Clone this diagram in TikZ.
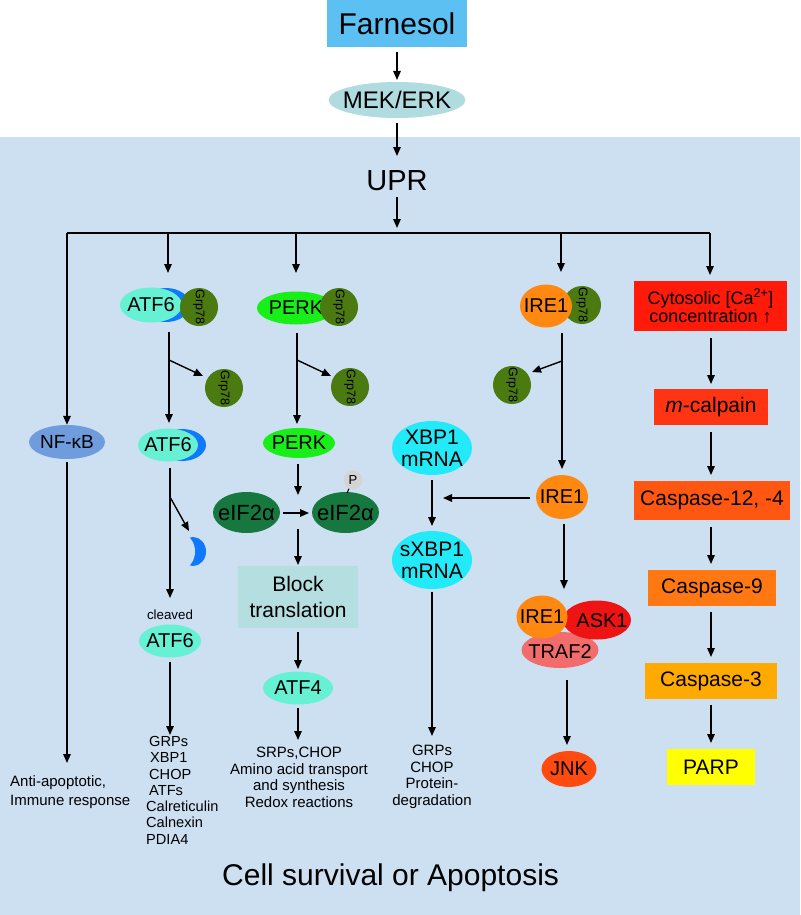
\documentclass[tikz,border=0pt]{standalone}
\usepackage{fontspec}
\setmainfont{Liberation Sans}
\usetikzlibrary{shapes.geometric,arrows.meta}
\definecolor{bgblue}{RGB}{204,224,242}
\definecolor{farn}{RGB}{92,192,242}
\definecolor{mek}{RGB}{176,220,224}
\definecolor{grp}{RGB}{74,122,16}
\definecolor{atfc}{RGB}{102,240,212}
\definecolor{cres}{RGB}{16,120,250}
\definecolor{perkc}{RGB}{24,238,24}
\definecolor{eifc}{RGB}{22,120,62}
\definecolor{pc}{RGB}{212,212,212}
\definecolor{blockc}{RGB}{180,222,224}
\definecolor{xbpc}{RGB}{34,234,248}
\definecolor{irec}{RGB}{255,136,17}
\definecolor{askc}{RGB}{238,20,20}
\definecolor{trafc}{RGB}{242,108,108}
\definecolor{jnkc}{RGB}{255,74,16}
\definecolor{nfkc}{RGB}{110,156,220}
\definecolor{cytoc}{RGB}{255,26,10}
\definecolor{calpc}{RGB}{255,52,18}
\definecolor{c12c}{RGB}{255,86,17}
\definecolor{c9c}{RGB}{255,120,18}
\definecolor{c3c}{RGB}{255,170,0}
\definecolor{parpc}{RGB}{255,255,0}
\begin{document}
\begin{tikzpicture}[x=1pt,y=-1pt,
  arr/.style={-{Triangle[length=9pt,width=7.5pt]}, line width=1.4pt},
  ln/.style={line width=1.4pt},
  ell/.style={ellipse, inner sep=0pt},
  boxn/.style={rectangle, inner sep=0pt},
  grpn/.style={circle, fill=grp, minimum size=38pt, inner sep=0pt, rotate=-90, font=\fontsize{12.5pt}{14pt}\selectfont},
  txt/.style={inner sep=0pt, align=center},
  f20/.style={font=\fontsize{20pt}{22pt}\selectfont},
  f21/.style={font=\fontsize{21pt}{23pt}\selectfont},
  f15/.style={font=\fontsize{15pt}{16.6pt}\selectfont}]
\useasboundingbox (0,0) rectangle (800,915);
\fill[white] (0,0) rectangle (800,137);
\fill[bgblue] (0,137) rectangle (800,915);

% top
\node[boxn, fill=farn, minimum width=140pt, minimum height=47pt, font=\fontsize{30pt}{32pt}\selectfont] (farnesol) at (397,23.5) {Farnesol};
\node[ell, fill=mek, minimum width=137pt, minimum height=36pt] (mek) at (397,100) {};
\node[txt, font=\fontsize{24pt}{26pt}\selectfont] (mekt) at (mek) {MEK/ERK};
\node[txt, font=\fontsize{29pt}{31pt}\selectfont] (upr) at (397,181) {UPR};
\draw[arr] (397,52) -- (397,80);
\draw[arr] (397,123) -- (397,156);
\draw[arr] (397,197) -- (397,228);
\coordinate (hl) at (67,233);
\coordinate (hr) at (710,233);
\draw[ln] (hl) -- (hr);

% NF-kB
\node[ell, fill=nfkc, minimum width=76pt, minimum height=34pt] (nfkb) at (67,442) {};
\node[txt, font=\fontsize{19pt}{21pt}\selectfont] (nfkbt) at (nfkb) {NF-κB};
\draw[arr] (hl) -- (nfkb.north);
\draw[arr] (nfkb.south) ++(0,3) -- (67,763);
\node[txt, anchor=west, align=left, font=\fontsize{15pt}{19pt}\selectfont] (antiapo) at (10,792) {Anti-apoptotic,\\Immune response};

% ATF6 column
\fill[cres] (166,305) ellipse [x radius=24pt, y radius=17pt];
\node[ell, fill=atfc, minimum width=62pt, minimum height=35pt] (atf6a) at (151,305) {};
\node[txt, f20] (atf6at) at (atf6a) {ATF6};
\node[grpn] (grp1) at (199,307) {Grp78};
\draw[arr] (168,233) -- (168,273);
\draw[arr] (169,332) -- (169,423);
\coordinate (b1) at (169,360);
\draw[arr] (b1) -- (203,376);
\node[grpn] (grp1r) at (224,388) {Grp78};

\fill[cres] (182,445) ellipse [x radius=24pt, y radius=16pt];
\node[ell, fill=atfc, minimum width=60pt, minimum height=33pt] (atf6b) at (168,445) {};
\node[txt, f20] (atf6bt) at (atf6b) {ATF6};
% free crescent
\fill[cres] (193,551.5) ellipse [x radius=13pt, y radius=14.5pt];
\fill[bgblue] (183,551.5) ellipse [x radius=12pt, y radius=16.5pt];
\coordinate (crescent) at (189,531);
\draw[arr] (170,468) -- (170,598);
\coordinate (b2) at (170,497);
\draw[arr] (b2) -- (crescent);
\node[txt, font=\fontsize{13.3pt}{15pt}\selectfont] (cleaved) at (170,615) {cleaved};
\node[ell, fill=atfc, minimum width=62pt, minimum height=33pt] (atf6c) at (170,641) {};
\node[txt, f20] (atf6ct) at (atf6c) {ATF6};
\draw[arr] (atf6c.south) ++(0,4) -- (170,735);
\node[txt, anchor=north west, align=left, font=\fontsize{14.6pt}{16.3pt}\selectfont] (atf6list) at (146,736) {\hspace*{3pt}GRPs\\\hspace*{4pt}XBP1\\\hspace*{3pt}CHOP\\\hspace*{3pt}ATFs\\Calreticulin\\Calnexin\\PDIA4};

% PERK column
\node[ell, fill=perkc, minimum width=78pt, minimum height=33pt] (perka) at (296,308) {};
\node[txt, f20] (perkat) at (perka) {PERK};
\node[grpn] (grp2) at (339,307) {Grp78};
\draw[arr] (296,233) -- (296,273);
\draw[arr] (297,333) -- (297,424);
\coordinate (b3) at (297,360);
\draw[arr] (b3) -- (331,376);
\node[grpn] (grp2r) at (350,387) {Grp78};
\node[ell, fill=perkc, minimum width=72pt, minimum height=30pt] (perkb) at (299,443) {};
\node[txt, f20] (perkbt) at (perkb) {PERK};
\draw[arr] (298,464) -- (298,495);
\node[ell, fill=eifc, minimum width=67pt, minimum height=41pt] (eif1) at (246.5,512.5) {};
\node[txt, font=\fontsize{22pt}{24pt}\selectfont] (eif1t) at (eif1) {eIF2α};
\node[ell, fill=eifc, minimum width=67pt, minimum height=41pt] (eif2) at (345.5,512.5) {};
\node[txt, font=\fontsize{22pt}{24pt}\selectfont] (eif2t) at (eif2) {eIF2α};
\node[circle, fill=pc, minimum size=19pt, inner sep=0pt, font=\fontsize{13pt}{14pt}\selectfont] (pnode) at (353,480) {P};
\draw[line width=1pt] (pnode.south) ++(-4,-1) -- (347,493);
\draw[arr] (283,513) -- (309,513);
\draw[arr] (298,529) -- (298,565);
\node[boxn, fill=blockc, minimum width=120pt, minimum height=62pt, align=center, font=\fontsize{21pt}{26pt}\selectfont] (block) at (298,597) {Block\\translation};
\draw[arr] (298,632) -- (298,669);
\node[ell, fill=atfc, minimum width=70pt, minimum height=33pt] (atf4) at (298,688) {};
\node[txt, f20] (atf4t) at (atf4) {ATF4};
\draw[arr] (298,708) -- (298,740);
\node[txt, f15, anchor=north] (perklist) at (299,747) {SRPs,CHOP\\Amino acid transport\\and synthesis\\Redox reactions};

% XBP1 column
\node[ell, fill=xbpc, minimum width=80pt, minimum height=54pt] (xbp1) at (432,448) {};
\node[txt, font=\fontsize{21pt}{22pt}\selectfont] (xbp1t) at (xbp1) {XBP1\\mRNA};
\node[ell, fill=xbpc, minimum width=80pt, minimum height=58pt] (sxbp1) at (432,560) {};
\node[txt, font=\fontsize{21pt}{22pt}\selectfont] (sxbp1t) at (sxbp1) {sXBP1\\mRNA};
\draw[arr] (432,480) -- (432,526);
\draw[arr] (432,592) -- (432,736);
\node[txt, f15, anchor=north] (xbplist) at (432,745) {GRPs\\CHOP\\Protein-\\degradation};

% IRE1 column
\node[grpn] (grp3) at (582,305) {Grp78};
\node[ell, fill=irec, minimum width=52pt, minimum height=43pt] (ire1a) at (546,306) {};
\node[txt, f20] (ire1at) at (ire1a) {IRE1};
\draw[arr] (561,233) -- (561,272);
\draw[arr] (562,333) -- (562,469);
\coordinate (b4) at (562,361);
\draw[arr] (b4) -- (532,372);
\node[grpn] (grp3r) at (512,385) {Grp78};
\node[ell, fill=irec, minimum width=52pt, minimum height=44pt] (ire1b) at (562,497) {};
\node[txt, f20] (ire1bt) at (ire1b) {IRE1};
\draw[arr] (530,498) -- (443,498);
\draw[arr] (564,524) -- (564,589);
\node[ell, fill=trafc, minimum width=77pt, minimum height=36pt] (traf2) at (560,650) {};
\node[ell, fill=askc, minimum width=68pt, minimum height=39pt] (ask1) at (597,620) {};
\node[ell, fill=irec, minimum width=51pt, minimum height=43pt] (ire1c) at (542,617) {};
\node[txt, f20] (traf2t) at (560,652) {TRAF2};
\node[txt, f20] (ask1t) at (602,621) {ASK1};
\node[txt, f20] (ire1ct) at (542,617) {IRE1};
\draw[arr] (567,680) -- (567,745);
\node[ell, fill=jnkc, minimum width=55pt, minimum height=36pt] (jnk) at (569,769) {};
\node[txt, f20] (jnkt) at (jnk) {JNK};

% right column
\node[boxn, fill=cytoc, minimum width=153pt, minimum height=50pt, align=center, font=\fontsize{18pt}{18pt}\selectfont] (cyto) at (710.5,306) {Cytosolic [Ca\textsuperscript{2+}]\\concentration ↑};
\draw[arr] (710,233) -- (710,275);
\draw[arr] (711,338) -- (711,384);
\node[boxn, fill=calpc, minimum width=114pt, minimum height=36pt, f21] (calpain) at (711,407) {\textit{m}-calpain};
\draw[arr] (711,432) -- (711,475);
\node[boxn, fill=c12c, minimum width=156pt, minimum height=39pt, f21] (casp12) at (712,500.5) {Caspase-12, -4};
\draw[arr] (711,527) -- (711,564);
\node[boxn, fill=c9c, minimum width=128pt, minimum height=36pt, f21] (casp9) at (712,588) {Caspase-9};
\draw[arr] (711,612) -- (711,657);
\node[boxn, fill=c3c, minimum width=132pt, minimum height=36pt, f21] (casp3) at (711,681) {Caspase-3};
\draw[arr] (711,705) -- (711,743);
\node[boxn, fill=parpc, minimum width=88pt, minimum height=36pt, f21] (parp) at (711,767) {PARP};

% bottom
\node[txt, anchor=west, font=\fontsize{30pt}{32pt}\selectfont] (cellsurv) at (222,878) {Cell survival or Apoptosis};
\end{tikzpicture}
\end{document}
